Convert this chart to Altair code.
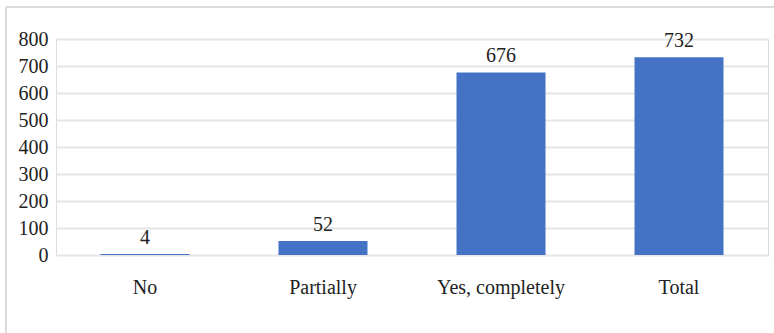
import altair as alt
import pandas as pd

categories = ["No", "Partially", "Yes, completely", "Total"]
values = [4, 52, 676, 732]

df = pd.DataFrame({"category": categories, "value": values})

FONT = "'Liberation Serif', 'Times New Roman', 'DejaVu Serif', serif"

frame = alt.Chart(df).mark_rect(fill=None, stroke="#d9d9d9", strokeWidth=1).encode(
    x=alt.value(-50), x2=alt.value(800), y=alt.value(-32), y2=alt.value(400)
)

base = alt.Chart(df).encode(
    x=alt.X("category:N", sort=categories, title=None,
            scale=alt.Scale(paddingInner=0.5, paddingOuter=0.25),
            axis=alt.Axis(labelAngle=0, domain=False, ticks=False, labelPadding=22,
                          labelFont=FONT, labelFontSize=20, labelColor="#222222")),
    y=alt.Y("value:Q", title=None,
            scale=alt.Scale(domain=[0, 800], nice=False),
            axis=alt.Axis(values=[0, 100, 200, 300, 400, 500, 600, 700, 800],
                          domain=False, ticks=False, labelPadding=8,
                          labelFont=FONT, labelFontSize=20, labelColor="#222222",
                          gridColor="#e6e6e6", gridWidth=2)),
)

bars = base.mark_bar(color="#4472C4")
text = base.mark_text(dy=-6, baseline="bottom", font=FONT, fontSize=20, color="#222222").encode(
    text="value:Q"
)

chart = alt.layer(frame, bars, text).properties(
    width=712, height=216,
    autosize=alt.AutoSizeParams(type="none"),
    padding={"left": 56, "top": 39, "right": 6, "bottom": 78},
    background="white",
).configure_view(stroke=None).configure(font=FONT)

chart.save("out.html", embed_options={"renderer": "svg", "actions": False})
